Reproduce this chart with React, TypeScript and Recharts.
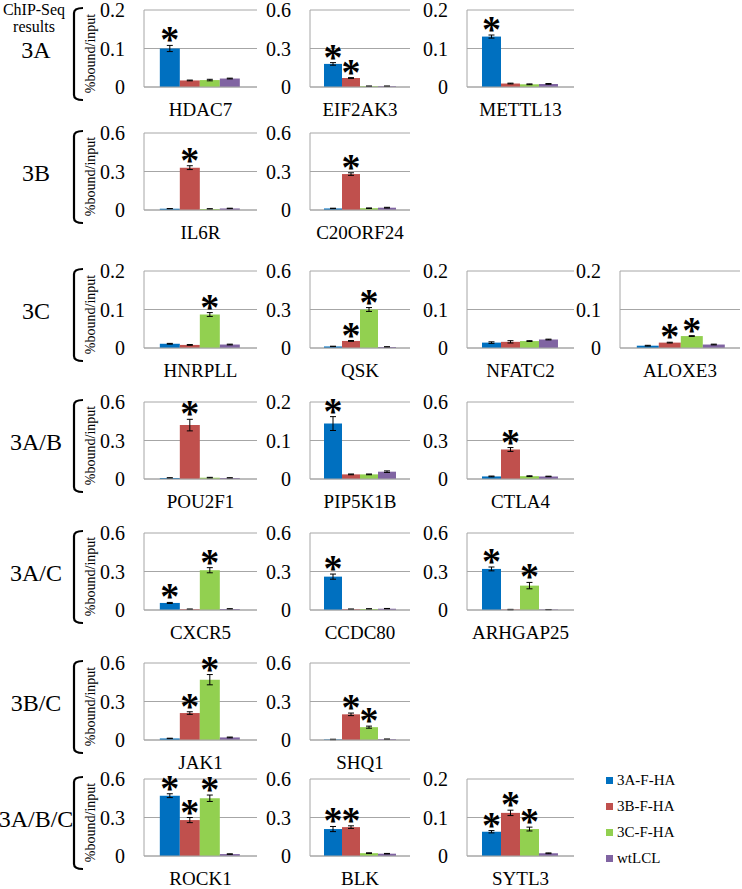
import React from 'react';
import { BarChart, Bar, XAxis, YAxis, CartesianGrid, ErrorBar } from 'recharts';

// genes in reading order (left to right, row by row)
const genes = [
  'HDAC7', 'EIF2AK3', 'METTL13',
  'IL6R', 'C20ORF24',
  'HNRPLL', 'QSK', 'NFATC2', 'ALOXE3',
  'POU2F1', 'PIP5K1B', 'CTLA4',
  'CXCR5', 'CCDC80', 'ARHGAP25',
  'JAK1', 'SHQ1',
  'ROCK1', 'BLK', 'SYTL3',
];
const geneRow = [0, 0, 0, 1, 1, 2, 2, 2, 2, 3, 3, 3, 4, 4, 4, 5, 5, 6, 6, 6];
const geneCol = [0, 1, 2, 0, 1, 0, 1, 2, 3, 0, 1, 2, 0, 1, 2, 0, 1, 0, 1, 2];
const geneScale = [
  'low', 'high', 'low',
  'high', 'high',
  'low', 'high', 'low', 'low',
  'high', 'low', 'high',
  'high', 'high', 'high',
  'high', 'high',
  'high', 'high', 'low',
];

const rowLabels = ['3A', '3B', '3C', '3A/B', '3A/C', '3B/C', '3A/B/C'];
const seriesNames = ['3A-F-HA', '3B-F-HA', '3C-F-HA', 'wtLCL'];
const seriesColors = ['#0070C0', '#C0504D', '#92D050', '#8064A2'];

const ticksLow = [0, 0.1, 0.2];
const ticksHigh = [0, 0.3, 0.6];

// %bound/input per gene
const val3A = [0.100, 0.180, 0.131, 0.010, 0.012, 0.011, 0.012, 0.014, 0.006, 0.008, 0.144, 0.020, 0.055, 0.260, 0.320, 0.012, 0.004, 0.470, 0.210, 0.063];
const val3B = [0.017, 0.070, 0.009, 0.330, 0.280, 0.008, 0.055, 0.016, 0.014, 0.420, 0.012, 0.230, 0.006, 0.006, 0.003, 0.210, 0.200, 0.280, 0.225, 0.112];
const val3C = [0.018, 0.006, 0.007, 0.008, 0.014, 0.087, 0.300, 0.018, 0.031, 0.010, 0.012, 0.022, 0.310, 0.008, 0.190, 0.470, 0.100, 0.450, 0.022, 0.070];
const valWt = [0.022, 0.006, 0.008, 0.012, 0.018, 0.009, 0.008, 0.022, 0.009, 0.008, 0.019, 0.020, 0.008, 0.010, 0.003, 0.020, 0.006, 0.015, 0.018, 0.007];

// error bar half-heights
const err3A = [0.008, 0.010, 0.004, 0.001, 0.002, 0.001, 0.002, 0.002, 0.001, 0.002, 0.018, 0.003, 0.004, 0.020, 0.015, 0.002, 0.002, 0.015, 0.020, 0.003];
const err3B = [0.001, 0.003, 0.001, 0.015, 0.010, 0.001, 0.003, 0.003, 0.001, 0.045, 0.001, 0.015, 0.002, 0.002, 0.002, 0.010, 0.010, 0.020, 0.010, 0.007];
const err3C = [0.002, 0.002, 0.001, 0.002, 0.002, 0.005, 0.015, 0.001, 0.001, 0.003, 0.001, 0.003, 0.020, 0.002, 0.025, 0.040, 0.008, 0.025, 0.003, 0.005];
const errWt = [0.001, 0.002, 0.001, 0.002, 0.003, 0.001, 0.002, 0.001, 0.001, 0.002, 0.002, 0.002, 0.002, 0.002, 0.001, 0.003, 0.002, 0.002, 0.002, 0.001];

// significance asterisks (1 = starred)
const sig3A = [1, 1, 1, 0, 0, 0, 0, 0, 0, 0, 1, 0, 1, 1, 1, 0, 0, 1, 1, 1];
const sig3B = [0, 1, 0, 1, 1, 0, 1, 0, 1, 1, 0, 1, 0, 0, 0, 1, 1, 1, 1, 1];
const sig3C = [0, 0, 0, 0, 0, 1, 1, 0, 1, 0, 0, 0, 1, 0, 1, 1, 1, 1, 0, 1];
const sigWt = [0, 0, 0, 0, 0, 0, 0, 0, 0, 0, 0, 0, 0, 0, 0, 0, 0, 0, 0, 0];

const values = [val3A, val3B, val3C, valWt];
const errors = [err3A, err3B, err3C, errWt];
const stars = [sig3A, sig3B, sig3C, sigWt];

// page layout
const COL_X = [144, 310, 467, 620];
const COL_W = [113, 100, 107, 120];
const ROW_TOP = [10, 133, 271, 402, 533, 663, 779];
const PLOT_H = 77;
const Y_W = 50;
const M_TOP = 20;
const X_H = 42;

const SERIF = '"Liberation Serif", "Times New Roman", serif';
const GRID = '#A6A6A6';

function starLabel(sig: number, err: number) {
  return (props: any) => {
    const { x, y, width, height, value } = props;
    if (!sig || !value) return null;
    const top = Number(y) - err * (Number(height) / Number(value));
    return (
      <text
        x={Number(x) + Number(width) / 2}
        y={top + 7}
        textAnchor="middle"
        style={{ fontFamily: SERIF, fontSize: 38, fontWeight: 700 }}
        fill="#000"
      >
        *
      </text>
    );
  };
}

function GeneTick(props: any) {
  const { x, y, payload } = props;
  return (
    <text x={x} y={y + 27} textAnchor="middle" fill="#000" style={{ fontFamily: SERIF, fontSize: 19 }}>
      {payload.value}
    </text>
  );
}

function ValueTick(props: any) {
  const { x, y, payload } = props;
  return (
    <text x={x - 17} y={y + 7} textAnchor="end" fill="#000" style={{ fontFamily: SERIF, fontSize: 20 }}>
      {payload.value}
    </text>
  );
}

function GenePanel({ g }: { g: number }) {
  const ticks = geneScale[g] === 'low' ? ticksLow : ticksHigh;
  const row: any = { name: genes[g] };
  seriesNames.forEach((_, s) => {
    row['v' + s] = values[s][g];
    row['e' + s] = errors[s][g];
  });
  const col = geneCol[g];
  return (
    <div style={{ position: 'absolute', left: COL_X[col] - Y_W, top: ROW_TOP[geneRow[g]] - M_TOP }}>
      <BarChart
        width={Y_W + COL_W[col] + 2}
        height={M_TOP + PLOT_H + X_H}
        data={[row]}
        margin={{ top: M_TOP, right: 2, bottom: 0, left: 0 }}
        barCategoryGap="14%"
        barGap={0}
      >
        <CartesianGrid vertical={false} stroke={GRID} />
        <XAxis
          dataKey="name"
          axisLine={{ stroke: GRID }}
          tickLine={false}
          tickSize={0}
          height={X_H}
          interval={0}
          tick={<GeneTick />}
        />
        <YAxis
          type="number"
          domain={[0, ticks[2]]}
          ticks={ticks}
          width={Y_W}
          axisLine={{ stroke: GRID }}
          tickLine={false}
          tickSize={0}
          tick={<ValueTick />}
        />
        {seriesNames.map((n, s) => (
          <Bar
            key={n}
            dataKey={'v' + s}
            name={n}
            fill={seriesColors[s]}
            isAnimationActive={false}
            label={starLabel(stars[s][g], errors[s][g])}
          >
            <ErrorBar dataKey={'e' + s} width={3} stroke="#000" strokeWidth={1} direction="y" isAnimationActive={false} />
          </Bar>
        ))}
      </BarChart>
    </div>
  );
}

function RowDecor() {
  const txt = { fontFamily: SERIF };
  return (
    <svg width={742} height={889} style={{ position: 'absolute', left: 0, top: 0, pointerEvents: 'none' }}>
      <text x={34} y={15} textAnchor="middle" style={{ ...txt, fontSize: 16 }}>ChIP-Seq</text>
      <text x={34} y={32} textAnchor="middle" style={{ ...txt, fontSize: 16 }}>results</text>
      {rowLabels.map((lab, r) => {
        const t = ROW_TOP[r];
        const b = t + PLOT_H;
        const mid = (t + b) / 2;
        const bt = t - 2;
        const bb = b + 13;
        return (
          <g key={lab}>
            <text x={36} y={mid + 9} textAnchor="middle" style={{ ...txt, fontSize: 24 }}>{lab}</text>
            <path
              d={`M 83 ${bt} Q 74 ${bt} 74 ${bt + 5} L 74 ${bb - 5} Q 74 ${bb} 83 ${bb}`}
              stroke="#000"
              strokeWidth={2.2}
              fill="none"
            />
            <text
              x={95}
              y={mid + 5}
              textAnchor="middle"
              style={{ ...txt, fontSize: 14 }}
              transform={`rotate(-90 95 ${mid + 5})`}
            >
              %bound/input
            </text>
          </g>
        );
      })}
    </svg>
  );
}

function SeriesLegend() {
  return (
    <div style={{ position: 'absolute', left: 606, top: 767, fontFamily: SERIF, fontSize: 15 }}>
      {seriesNames.map((n, s) => (
        <div key={n} style={{ display: 'flex', alignItems: 'center', height: 26 }}>
          <span style={{ width: 7, height: 7, background: seriesColors[s], marginRight: 4 }} />
          <span>{n}</span>
        </div>
      ))}
    </div>
  );
}

export default function App() {
  return (
    <div style={{ position: 'absolute', left: 0, top: 0, width: 742, height: 889, background: '#fff', overflow: 'hidden' }}>
      <RowDecor />
      {genes.map((_, g) => (
        <GenePanel key={genes[g]} g={g} />
      ))}
      <SeriesLegend />
    </div>
  );
}
